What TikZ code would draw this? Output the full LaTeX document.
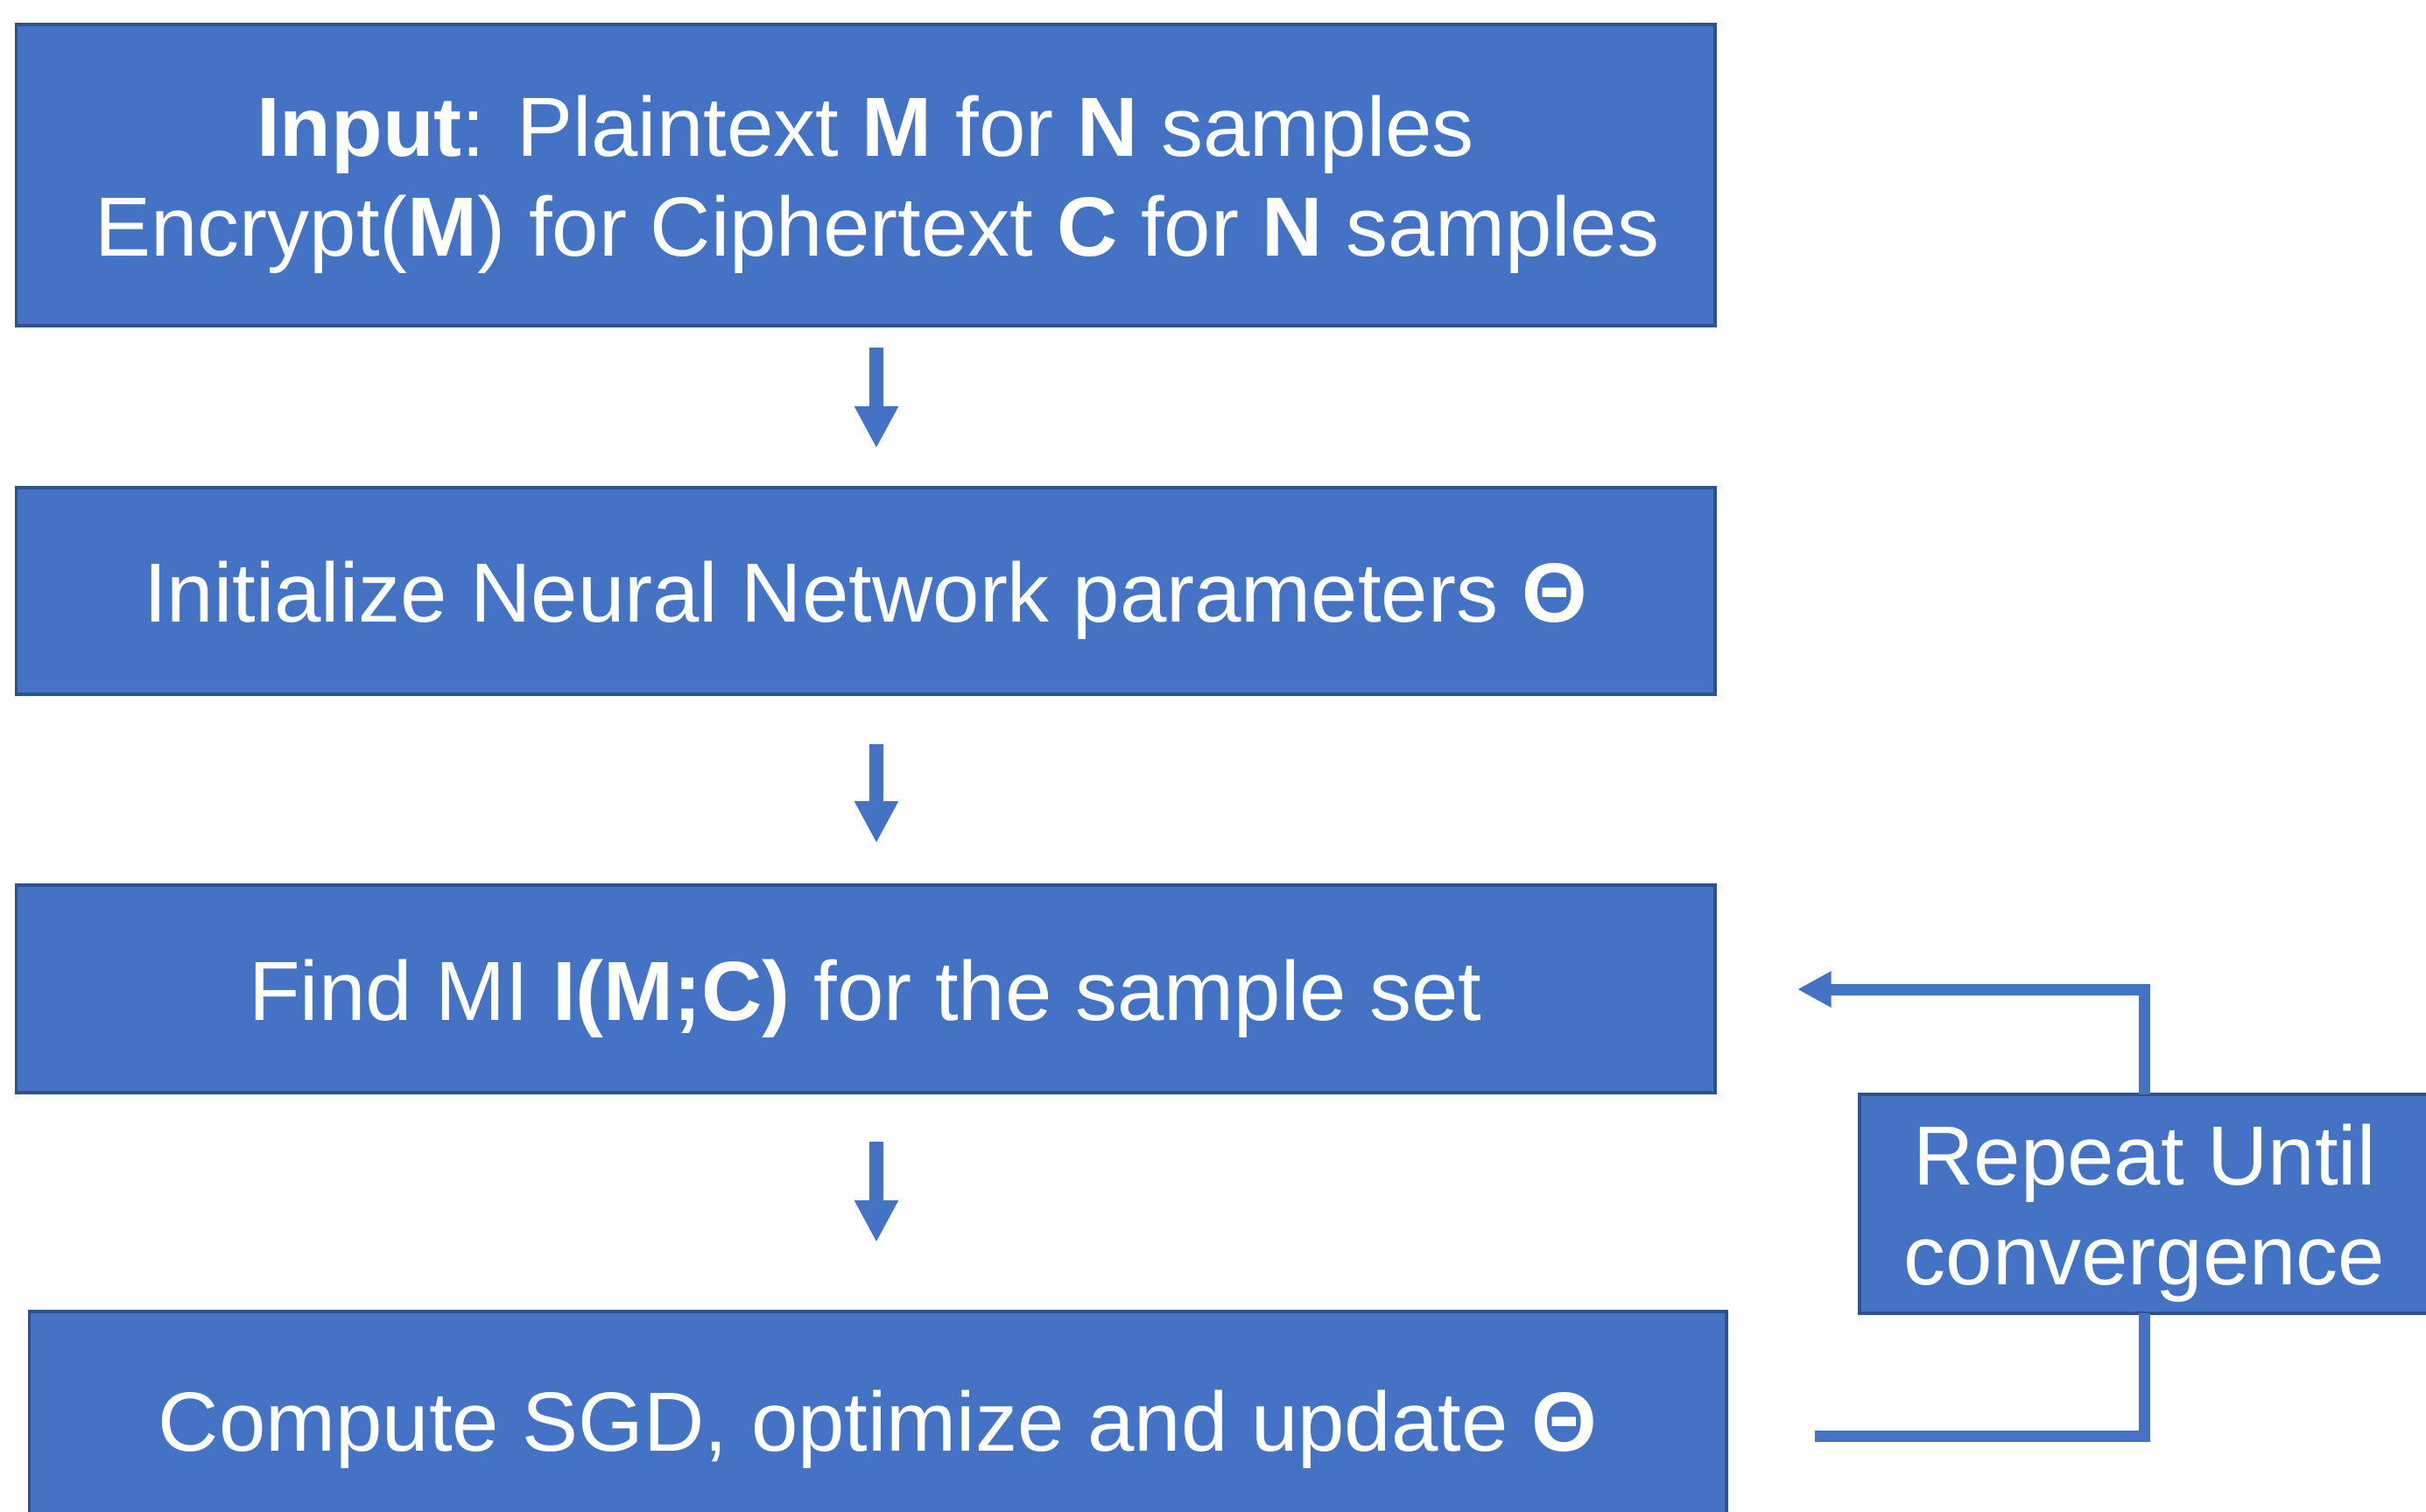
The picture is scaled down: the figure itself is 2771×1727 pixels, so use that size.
\documentclass[tikz,border=0pt]{standalone}
\usepackage{fontspec}
\setmainfont{Liberation Sans}
\usetikzlibrary{arrows.meta,calc}
\definecolor{boxfill}{HTML}{4472C4}
\definecolor{boxline}{HTML}{2F528F}
\newcommand\lowr{\rule{0pt}{26pt}}
\begin{document}
\begin{tikzpicture}[x=0.01cm,y=-0.01cm,
  stepbox/.style={draw=boxline,fill=boxfill,line width=1.1pt,inner sep=0pt,outer sep=0pt,
    text=white,align=center,font=\fontsize{27.3}{32.5}\selectfont},
  dnarrow/.style={draw=boxfill,line width=4.5pt,-{Triangle[width=13.3pt,length=13.6pt]}},
  loopline/.style={draw=boxfill,line width=3.7pt},
  looparrow/.style={draw=boxfill,line width=3.7pt,-{Triangle[width=11pt,length=11pt]}}
]
\useasboundingbox (0,0) rectangle (2771,1727);
\node[stepbox,minimum width=19.39cm,minimum height=3.44cm] (b1) at (988.5,200)
  {\lowr\textbf{Input}: Plaintext \textbf{M} for \textbf{N} samples\\\hspace*{0.278em}Encrypt(\textbf{M}) for Ciphertext \textbf{C} for \textbf{N} samples};
\node[stepbox,minimum width=19.39cm,minimum height=2.36cm] (b2) at (988.5,675)
  {\lowr Initialize Neural Network parameters \textbf{Θ}};
\node[stepbox,minimum width=19.39cm,minimum height=2.37cm] (b3) at (988.5,1129.5)
  {\lowr Find MI \textbf{I(M;C)} for the sample set};
\node[stepbox,minimum width=19.37cm,minimum height=2.48cm] (b4) at (1002.5,1622)
  {\lowr Compute SGD, optimize and update \textbf{Θ}};
\node[stepbox,minimum width=6.51cm,minimum height=2.50cm] (r) at (2449.5,1375)
  {\lowr Repeat Until\\convergence};
\draw[dnarrow] ($(b1.south)+(12.5,25)$) -- ($(b2.north)+(12.5,-45)$);
\draw[dnarrow] ($(b2.south)+(12.5,57)$) -- ($(b3.north)+(12.5,-48)$);
\draw[dnarrow] ($(b3.south)+(12.5,56)$) -- ($(b4.north)+(-1.5,-79)$);
\coordinate (ls) at (2073,1640);
\coordinate (le) at (2053,1130);
\draw[loopline] (ls) -- (r.south |- ls) -- (r.south);
\draw[looparrow] (r.north) -- (r.north |- le) -- (le);
\end{tikzpicture}
\end{document}
